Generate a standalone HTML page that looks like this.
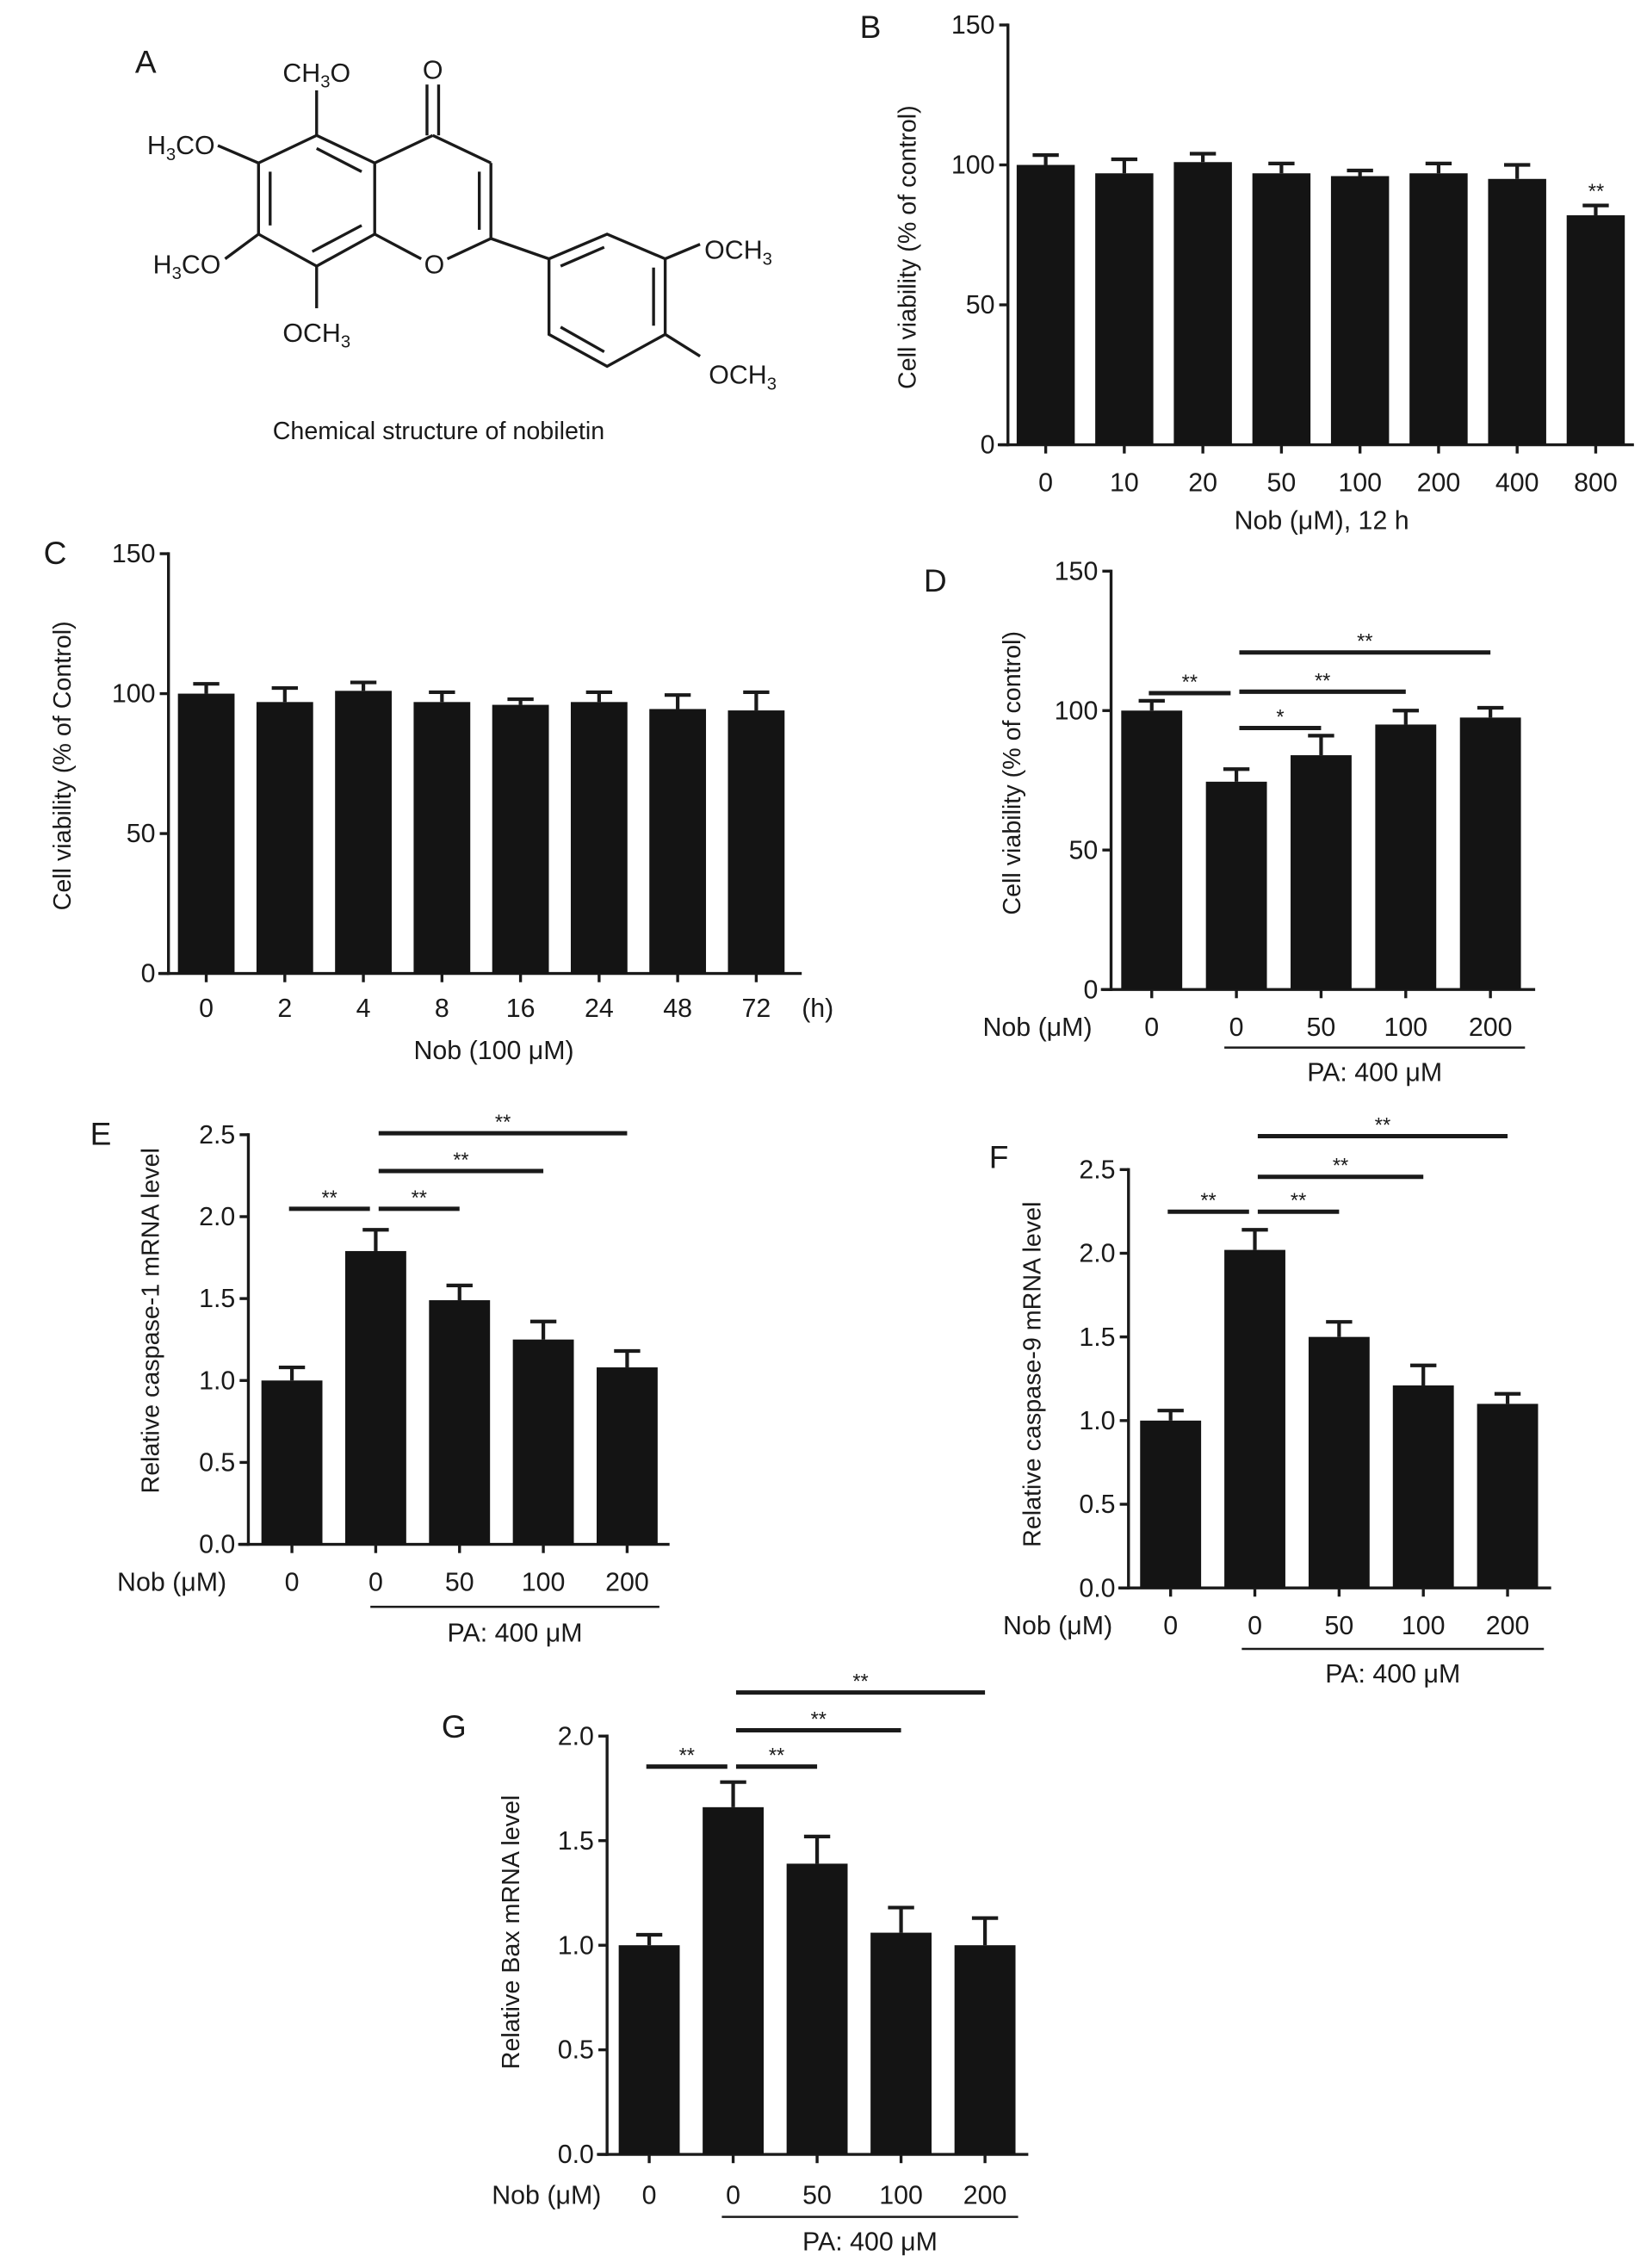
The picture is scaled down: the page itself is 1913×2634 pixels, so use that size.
<!DOCTYPE html>
<html><head><meta charset="utf-8"><style>
html,body{margin:0;padding:0;background:#fff}
svg{display:block}
text{font-family:"Liberation Sans",sans-serif;fill:#1a1a1a}
</style></head><body>
<svg id="fig" width="1913" height="2634" viewBox="0 0 1134 1561" xmlns="http://www.w3.org/2000/svg">
<g id="panelA" stroke="#1a1a1a" stroke-width="2" fill="none">
  <text x="93" y="50" font-size="22" stroke="none">A</text>
  <polygon points="218,93 178,112 178,161 218,183 258,161 258,112"/>
  <line x1="186" y1="118" x2="186" y2="155"/><line x1="215" y1="173" x2="249" y2="155"/><line x1="249" y1="118" x2="218" y2="102"/>
  <line x1="258" y1="112" x2="298" y2="93"/><line x1="298" y1="93" x2="338" y2="112"/><line x1="338" y1="112" x2="338" y2="164"/>
  <line x1="330" y1="118" x2="330" y2="158"/>
  <line x1="338" y1="164" x2="308" y2="178"/><line x1="290" y1="178" x2="258" y2="161"/>
  <line x1="294" y1="93" x2="294" y2="58"/><line x1="302" y1="93" x2="302" y2="58"/>
  <line x1="218" y1="93" x2="218" y2="62"/>
  <line x1="178" y1="112" x2="150" y2="100"/><line x1="178" y1="161" x2="155" y2="178"/>
  <line x1="218" y1="183" x2="218" y2="212"/>
  <line x1="338" y1="164" x2="378" y2="178"/>
  <polygon points="378,178 418,161 458,178 458,230 418,252 378,230"/>
  <line x1="386" y1="183" x2="416" y2="170"/><line x1="450" y1="184" x2="450" y2="224"/><line x1="386" y1="225" x2="416" y2="242"/>
  <line x1="458" y1="178" x2="482" y2="168"/><line x1="458" y1="230" x2="482" y2="245"/>
  <g stroke="none" font-size="18">
    <text x="218" y="56" text-anchor="middle">CH<tspan font-size="12" dy="4">3</tspan><tspan dy="-4">O</tspan></text>
    <text x="298" y="54" text-anchor="middle">O</text>
    <text x="148" y="106" text-anchor="end">H<tspan font-size="12" dy="4">3</tspan><tspan dy="-4">CO</tspan></text>
    <text x="152" y="188" text-anchor="end">H<tspan font-size="12" dy="4">3</tspan><tspan dy="-4">CO</tspan></text>
    <text x="299" y="188" text-anchor="middle">O</text>
    <text x="218" y="235" text-anchor="middle">OCH<tspan font-size="12" dy="4">3</tspan></text>
    <text x="485" y="178">OCH<tspan font-size="12" dy="4">3</tspan></text>
    <text x="488" y="264">OCH<tspan font-size="12" dy="4">3</tspan></text>
    <text x="302" y="302" text-anchor="middle" font-size="17">Chemical structure of nobiletin</text>
  </g>
</g>
</svg>
<script>
// Panel B
const bCats = ['0','10','20','50','100','200','400','800'];
const bVals = [100,97,101,97,96,97,95,82];
const bErrs = [3.5,5,3,3.5,2,3.5,5,3.5];
const bYTicks = [0,50,100,150];
// Panel C
const cCats = ['0','2','4','8','16','24','48','72'];
const cVals = [100,97,101,97,96,97,94.5,94];
const cErrs = [3.5,5,3,3.5,2,3.5,5,6.5];
const cYTicks = [0,50,100,150];
// Panel D
const dCats = ['0','0','50','100','200'];
const dVals = [100,74.5,84,95,97.5];
const dErrs = [3.5,4.5,7,5,3.5];
const dYTicks = [0,50,100,150];
// Panel E
const eCats = ['0','0','50','100','200'];
const eVals = [1.0,1.79,1.49,1.25,1.08];
const eErrs = [0.08,0.13,0.09,0.11,0.1];
const eYTicks = [0,0.5,1.0,1.5,2.0,2.5];
// Panel F
const fCats = ['0','0','50','100','200'];
const fVals = [1.0,2.02,1.5,1.21,1.1];
const fErrs = [0.06,0.12,0.09,0.12,0.06];
const fYTicks = [0,0.5,1.0,1.5,2.0,2.5];
// Panel G
const gCats = ['0','0','50','100','200'];
const gVals = [1.0,1.66,1.39,1.06,1.0];
const gErrs = [0.05,0.12,0.13,0.12,0.13];
const gYTicks = [0,0.5,1.0,1.5,2.0];

const NS='http://www.w3.org/2000/svg';
const svg=document.getElementById('fig');
function mk(tag,attrs,parent){const e=document.createElementNS(NS,tag);for(const k in attrs)e.setAttribute(k,attrs[k]);(parent||svg).appendChild(e);return e;}

function panel(p){
  const g=mk('g',{});
  
  
  const ymax=p.yticks[p.yticks.length-1];
  const Y=v=>p.y0-(v/ymax)*(p.y0-p.ytop);
  const X=i=>p.x0c+i*p.step;
  const lab=mk('text',{x:p.lx,y:p.ly,'font-size':22},g);lab.textContent=p.id.toUpperCase();
  
  
  mk('line',{x1:p.ax,y1:p.ytop-1,x2:p.ax,y2:p.y0+1,stroke:'#1a1a1a','stroke-width':2},g);
  mk('line',{x1:p.ax-7,y1:p.y0,x2:p.xend,y2:p.y0,stroke:'#1a1a1a','stroke-width':2},g);
  p.yticks.forEach(t=>{
    mk('line',{x1:p.ax-6,y1:Y(t),x2:p.ax,y2:Y(t),stroke:'#1a1a1a','stroke-width':2},g);
    const tt=mk('text',{x:p.ax-9,y:Y(t)+6,'font-size':18,'text-anchor':'end'},g);
    tt.textContent=p.dec?t.toFixed(1):String(t);
    
    
  });
  const yt=mk('text',{x:p.ytx,y:p.yty,'font-size':17,'text-anchor':'middle','dominant-baseline':'middle',transform:`rotate(-90 ${p.ytx} ${p.yty})`},g);
  yt.textContent=p.ytitle;
  
  
  p.cats.forEach((c,i)=>{
    const cx=X(i),v=p.vals[i],e=p.errs[i];
    mk('line',{x1:cx,y1:Y(v),x2:cx,y2:Y(v+e),stroke:'#1a1a1a','stroke-width':2.5},g);
    mk('line',{x1:cx-9,y1:Y(v+e),x2:cx+9,y2:Y(v+e),stroke:'#1a1a1a','stroke-width':2.5},g);
    const r=mk('rect',{x:cx-p.bw/2,y:Y(v),width:p.bw,height:p.y0-Y(v),fill:'#141414'},g);
    
    
    mk('line',{x1:cx,y1:p.y0,x2:cx,y2:p.y0+6,stroke:'#1a1a1a','stroke-width':2},g);
    const tl=mk('text',{x:cx,y:p.y0+(p.tly||32),'font-size':18,'text-anchor':'middle'},g);
    tl.textContent=c;
    
    
  });
  (p.sig||[]).forEach(s=>{
    const xa=s[0]===0?X(0)-2:X(s[0])+2, xb=s[1]===1?X(1)-4:X(s[1]);
    mk('line',{x1:xa,y1:s[2],x2:xb,y2:s[2],stroke:'#1a1a1a','stroke-width':3},g);
    const st=mk('text',{x:(xa+xb)/2,y:s[2]-3,'font-size':14,'text-anchor':'middle'},g);
    st.textContent=s[3];
    
    
  });
  (p.extra||[]).forEach(t=>{
    const et=mk('text',{x:t[0],y:t[1],'font-size':t[4]||18,'text-anchor':t[3]||'middle'},g);
    et.textContent=t[2];
    
    
  });
  if(p.pa){
    mk('line',{x1:p.pa[0],y1:p.pa[2],x2:p.pa[1],y2:p.pa[2],stroke:'#1a1a1a','stroke-width':1.5},g);
    const pt=mk('text',{x:(p.pa[0]+p.pa[1])/2,y:p.pa[3],'font-size':18,'text-anchor':'middle'},g);
    pt.textContent='PA: 400 μM';
    
    
  }
}

panel({id:'b',cats:bCats,vals:bVals,errs:bErrs,yticks:bYTicks,ax:694,y0:306,ytop:17,x0c:720,step:54.1,bw:40,xend:1125,tly:32,lx:592,ly:26,ytx:626,yty:170,ytitle:'Cell viability (% of control)',
  sig:[],extra:[[910,364,'Nob (μM), 12 h'],[1099,136,'**','middle',14]]});
panel({id:'c',cats:cCats,vals:cVals,errs:cErrs,yticks:cYTicks,ax:116,y0:670,ytop:381,x0c:142,step:54.1,bw:39,xend:552,tly:30,lx:30,ly:388,ytx:44,yty:527,ytitle:'Cell viability (% of Control)',
  extra:[[563,700,'(h)'],[340,729,'Nob (100 μM)']]});
panel({id:'d',cats:dCats,vals:dVals,errs:dErrs,yticks:dYTicks,ax:765,y0:681,ytop:393,x0c:793,step:58.3,bw:42,xend:1057,tly:32,lx:636,ly:407,ytx:698,yty:532,ytitle:'Cell viability (% of control)',
  sig:[[0,1,477,'**'],[1,2,501,'*'],[1,3,476,'**'],[1,4,449,'**']],extra:[[752,713,'Nob (μM)','end']],pa:[843,1050,721,744]});
panel({id:'e',cats:eCats,vals:eVals,errs:eErrs,yticks:eYTicks,dec:true,ax:171,y0:1063,ytop:781,x0c:201,step:57.7,bw:42,xend:461,tly:32,lx:62,ly:788,ytx:105,yty:909,ytitle:'Relative caspase-1 mRNA level',
  sig:[[0,1,832,'**'],[1,2,832,'**'],[1,3,806,'**'],[1,4,780,'**']],extra:[[156,1095,'Nob (μM)','end']],pa:[255,454,1106,1130]});
panel({id:'f',cats:fCats,vals:fVals,errs:fErrs,yticks:fYTicks,dec:true,ax:777,y0:1093,ytop:805,x0c:806,step:58,bw:42,xend:1068,tly:32,lx:681,ly:804,ytx:712,yty:946,ytitle:'Relative caspase-9 mRNA level',
  sig:[[0,1,834,'**'],[1,2,834,'**'],[1,3,810,'**'],[1,4,782,'**']],extra:[[766,1125,'Nob (μM)','end']],pa:[855,1063,1135,1158]});
panel({id:'g',cats:gCats,vals:gVals,errs:gErrs,yticks:gYTicks,dec:true,ax:418,y0:1483,ytop:1195,x0c:447,step:57.8,bw:42,xend:708,tly:34,lx:304,ly:1196,ytx:353,yty:1330,ytitle:'Relative Bax mRNA level',
  sig:[[0,1,1216,'**'],[1,2,1216,'**'],[1,3,1191,'**'],[1,4,1165,'**']],extra:[[414,1517,'Nob (μM)','end']],pa:[497,701,1526,1549]});
</script>
</body></html>
